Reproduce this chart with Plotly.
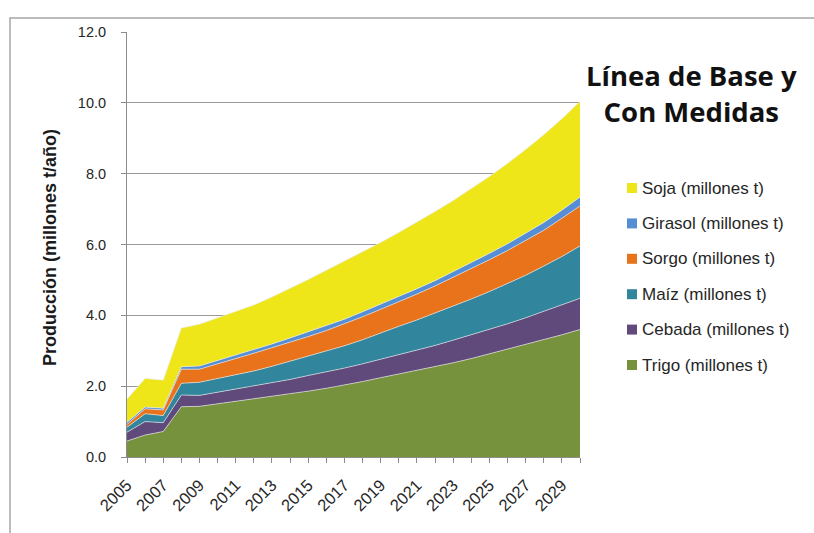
import plotly.graph_objects as go

# Años de la proyección
years = list(range(2005, 2031))

# Producción por cultivo (millones t), de abajo hacia arriba en el apilado
trigo = [0.45, 0.62, 0.72, 1.42, 1.43, 1.50, 1.57, 1.64, 1.71, 1.78, 1.86, 1.94, 2.03,
         2.13, 2.24, 2.34, 2.44, 2.55, 2.66, 2.78, 2.91, 3.04, 3.17, 3.31, 3.45, 3.60]
cebada = [0.25, 0.38, 0.25, 0.33, 0.31, 0.33, 0.35, 0.36, 0.38, 0.41, 0.44, 0.46, 0.48,
          0.50, 0.52, 0.54, 0.57, 0.60, 0.64, 0.67, 0.69, 0.72, 0.76, 0.80, 0.84, 0.88]
maiz = [0.14, 0.22, 0.20, 0.33, 0.37, 0.38, 0.40, 0.43, 0.47, 0.51, 0.55, 0.59, 0.63,
        0.68, 0.75, 0.81, 0.86, 0.91, 0.96, 1.01, 1.07, 1.13, 1.20, 1.28, 1.37, 1.48]
sorgo = [0.08, 0.14, 0.16, 0.40, 0.37, 0.41, 0.46, 0.50, 0.52, 0.54, 0.55, 0.58, 0.62,
         0.65, 0.66, 0.69, 0.73, 0.77, 0.81, 0.86, 0.90, 0.94, 0.98, 1.01, 1.08, 1.13]
girasol = [0.06, 0.05, 0.05, 0.07, 0.09, 0.10, 0.10, 0.11, 0.11, 0.12, 0.13, 0.13, 0.13,
           0.14, 0.14, 0.14, 0.15, 0.15, 0.16, 0.17, 0.18, 0.19, 0.20, 0.22, 0.23, 0.25]
soja = [0.65, 0.81, 0.79, 1.09, 1.18, 1.21, 1.23, 1.25, 1.33, 1.40, 1.48, 1.57, 1.64,
        1.69, 1.75, 1.82, 1.88, 1.95, 2.01, 2.08, 2.17, 2.27, 2.37, 2.48, 2.58, 2.70]

series = [
    ("Trigo (millones t)", trigo, "#76923C"),
    ("Cebada (millones t)", cebada, "#604A7B"),
    ("Maíz (millones t)", maiz, "#31859C"),
    ("Sorgo (millones t)", sorgo, "#E8731A"),
    ("Girasol (millones t)", girasol, "#558ED5"),
    ("Soja (millones t)", soja, "#EEE619"),
]

FONT = "Liberation Sans"
TXT = "#262626"

# Área de trazado en píxeles (para ubicar la leyenda y el marco)
W, H = 814, 533
L, R, T, B = 127, 234, 32, 76
PW, PH = W - L - R, H - T - B


def px_x(px):
    return (px - L) / PW


def px_y(py):
    return (H - B - py) / PH


fig = go.Figure()

for name, vals, color in series:
    fig.add_trace(go.Scatter(
        x=years, y=vals, name=name, stackgroup="cultivos",
        mode="lines", line=dict(width=0.8, color="rgba(235,235,235,0.8)"),
        fillcolor=color, showlegend=False,
        hovertemplate="%{x}: %{y:.2f}<extra>" + name + "</extra>",
    ))

# Leyenda: cuadrado de color y texto, de arriba (Soja) a abajo (Trigo)
shapes = []
annotations = []
row0, step = 188, 35.4
for i, (name, vals, color) in enumerate(reversed(series)):
    cy = row0 + i * step
    shapes.append(dict(
        type="rect", xref="paper", yref="paper",
        x0=px_x(627), x1=px_x(637), y0=px_y(cy + 5), y1=px_y(cy - 5),
        line=dict(width=0), fillcolor=color,
    ))
    annotations.append(dict(
        text=name, xref="paper", yref="paper", x=px_x(640), y=px_y(cy),
        xanchor="left", yanchor="middle", showarrow=False,
        font=dict(family=FONT, size=17, color=TXT),
    ))

annotations.append(dict(
    text="<b>Línea de Base y<br>Con Medidas</b>",
    xref="paper", yref="paper", x=px_x(691), y=px_y(93),
    xanchor="center", yanchor="middle", showarrow=False, align="center",
    font=dict(family="Open Sans", size=27.5, color="#111111"),
))

annotations.append(dict(
    text="<b>Producción (millones t/año)</b>",
    xref="paper", yref="paper", x=px_x(50), y=px_y(248),
    xanchor="center", yanchor="middle", showarrow=False, textangle=-90,
    font=dict(family=FONT, size=18, color="#1A1A1A"),
))

# Marco gris exterior del gráfico
shapes.append(dict(
    type="rect", xref="paper", yref="paper",
    x0=px_x(10), x1=px_x(830), y0=px_y(560), y1=px_y(18),
    line=dict(color="#A6A6A6", width=1.5), fillcolor="rgba(0,0,0,0)", layer="below",
))

fig.update_layout(
    width=W, height=H,
    margin=dict(l=L, r=R, t=T, b=B),
    paper_bgcolor="white", plot_bgcolor="white",
    font=dict(family=FONT, size=14, color=TXT),
    showlegend=False,
    xaxis=dict(
        range=[2005, 2030], tick0=2005, dtick=2, tickangle=-45,
        showgrid=False, zeroline=False,
        showline=True, linecolor="#8C8C8C", linewidth=1,
        ticks="outside", ticklen=5, tickcolor="#8C8C8C",
        minor=dict(dtick=1, tick0=2005, ticks="outside", ticklen=5, tickcolor="#8C8C8C"),
        ticklabelstandoff=6,
        tickfont=dict(family=FONT, size=16.5, color=TXT),
    ),
    yaxis=dict(
        range=[0, 12], tick0=0, dtick=2, tickformat=".1f",
        showgrid=True, gridcolor="#9A9A9A", gridwidth=1, zeroline=False,
        showline=True, linecolor="#8C8C8C", linewidth=1,
        ticks="outside", ticklen=5, tickcolor="#8C8C8C",
        ticklabelstandoff=12,
        tickfont=dict(family=FONT, size=14.5, color=TXT),
    ),
    annotations=annotations,
    shapes=shapes,
)

fig.write_html("out.html")
